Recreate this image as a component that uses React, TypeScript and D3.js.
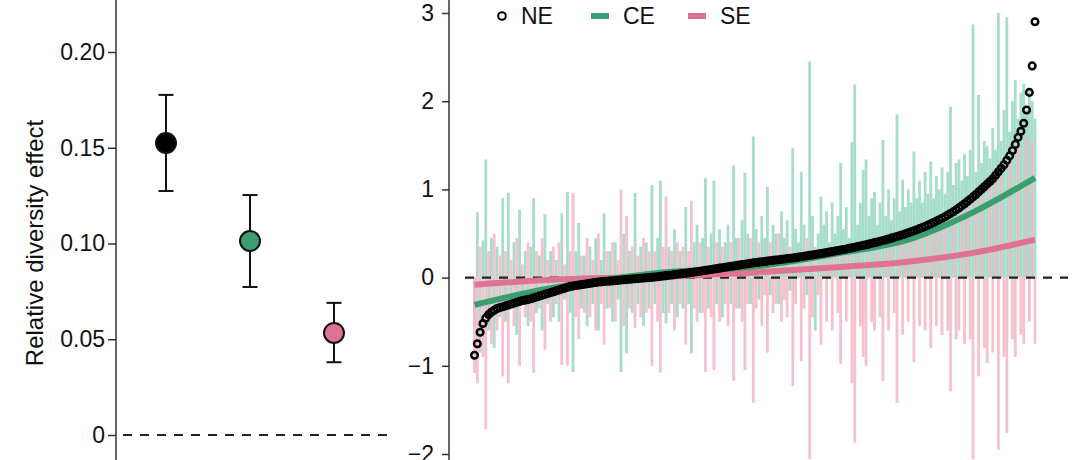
import React, { useEffect, useRef } from 'react';
import * as d3 from 'd3';

// left panel: mean relative diversity effect with CI
const effectGroups = ['NE', 'CE', 'SE'];
const effectMean = [0.1525, 0.1013, 0.0533];
const effectLower = [0.1274, 0.0773, 0.038];
const effectUpper = [0.1776, 0.1253, 0.069];
const leftTicks = [0, 0.05, 0.1, 0.15, 0.2];

// right panel: per-observation effects, sorted by NE
const rightTicks = [-2, -1, 0, 1, 2, 3];

const neValues = [
  -0.88, -0.75, -0.62, -0.52, -0.46, -0.42, -0.39, -0.37, -0.35, -0.34,
  -0.33, -0.32, -0.31, -0.30, -0.29, -0.28, -0.27, -0.26, -0.255, -0.25,
  -0.24, -0.23, -0.22, -0.21, -0.20, -0.19, -0.18, -0.17, -0.16, -0.15,
  -0.14, -0.13, -0.12, -0.11, -0.10, -0.095, -0.09, -0.085, -0.08, -0.075,
  -0.07, -0.065, -0.06, -0.055, -0.05, -0.048, -0.045, -0.042, -0.04, -0.037,
  -0.034, -0.031, -0.028, -0.025, -0.022, -0.019, -0.016, -0.013, -0.01, -0.007,
  -0.004, -0.002, 0.0, 0.003, 0.006, 0.01, 0.014, 0.018, 0.022, 0.026,
  0.03, 0.034, 0.038, 0.042, 0.046, 0.05, 0.054, 0.058, 0.062, 0.067,
  0.072, 0.077, 0.082, 0.087, 0.092, 0.097, 0.102, 0.107, 0.112, 0.117,
  0.122, 0.127, 0.132, 0.137, 0.142, 0.147, 0.152, 0.157, 0.162, 0.167,
  0.171, 0.175, 0.179, 0.183, 0.187, 0.191, 0.195, 0.199, 0.203, 0.207,
  0.211, 0.215, 0.219, 0.223, 0.227, 0.232, 0.237, 0.242, 0.247, 0.252,
  0.257, 0.262, 0.267, 0.272, 0.277, 0.283, 0.289, 0.295, 0.301, 0.307,
  0.313, 0.319, 0.325, 0.331, 0.337, 0.344, 0.351, 0.358, 0.365, 0.372,
  0.38, 0.388, 0.396, 0.404, 0.412, 0.42, 0.429, 0.438, 0.447, 0.456,
  0.466, 0.476, 0.486, 0.497, 0.508, 0.519, 0.531, 0.543, 0.555, 0.568,
  0.581, 0.595, 0.609, 0.624, 0.64, 0.656, 0.673, 0.69, 0.708, 0.727,
  0.747, 0.768, 0.79, 0.813, 0.837, 0.862, 0.888, 0.915, 0.943, 0.972,
  1.0, 1.03, 1.06, 1.09, 1.12, 1.16, 1.2, 1.24, 1.28, 1.33,
  1.38, 1.44, 1.51, 1.59, 1.66, 1.75, 1.9, 2.1, 2.4, 2.9,
];

const ceValues = [
  -0.55, 0.74, -0.85, 0.42, 1.34, -0.6, 0.45, -0.8, 0.35, -0.45,
  0.9, -0.5, 0.96, -0.35, 0.4, -0.65, 0.77, -0.3, 0.3, -0.55,
  0.35, 0.9, -0.4, 0.25, -0.6, 0.72, -0.3, 0.3, -0.45, 0.2,
  -0.5, 0.73, -0.25, 0.97, -0.4, -1.07, 0.3, 0.62, -0.35, 0.25,
  -0.55, 0.35, -0.3, 0.45, -0.6, 0.2, 0.73, -0.35, 0.3, -0.5,
  0.4, -0.25, -1.07, 0.5, -0.86, 0.3, -0.4, 0.96, -0.3, 0.35,
  -0.55, 0.4, -0.35, 1.05, -0.3, 0.45, 1.1, -0.4, -0.52, 0.35,
  -0.3, 0.55, -0.45, 0.3, -0.35, 0.8, -0.3, -0.86, 0.4, 0.6,
  -0.4, 0.45, 1.13, -0.35, 0.5, 1.1, -0.3, 0.55, -0.45, 0.4,
  0.6, -0.3, 1.27, 0.45, -0.35, 0.65, 1.19, 0.5, -0.3, 1.6,
  0.55, -0.25, 0.7, 0.45, 1.03, -0.2, 0.6, 0.5, -0.3, 0.75,
  0.45, 0.65, -0.15, 1.47, 0.55, 0.4, 1.2, 0.6, -0.2, 2.45,
  0.7, -0.6, 0.5, 0.92, 0.6, 0.75, 0.4, 0.85, 0.5, 0.7,
  1.3, 0.55, 0.8, 0.45, 1.54, 2.19, 0.6, 0.85, 1.22, 1.34,
  0.7, 0.9, 0.97, 0.6, 0.85, 1.56, 0.7, 1.0, 0.65, 0.9,
  1.85, 0.75, 1.11, 0.8, 1.0, 0.85, 1.43, 0.9, 1.1, 0.85,
  1.2, 0.95, 1.32, 0.9, 1.15, 1.0, 1.25, 0.95, 1.2, 1.94,
  1.05, 1.3, 1.34, 1.1, 1.4, 1.15, 1.45, 2.87, 1.2, 2.07,
  1.3, 1.55, 1.49, 1.35, 1.7, 1.45, 3.0, 1.55, 1.9, 2.95,
  1.65, 2.0, 2.24, 1.8, 2.1, 2.2, 1.9, 2.15, 2.0, 1.8,
];

const seValues = [
  -1.08, -1.2, 0.35, -0.9, -1.72, 0.3, -0.75, 0.5, -0.6, 0.25,
  -1.12, 0.3, -1.2, 0.2, -0.55, 0.45, -1.0, 0.15, -0.45, 0.4,
  -0.5, -1.08, 0.3, -0.35, 0.45, -0.82, 0.2, -0.5, 0.35, -0.3,
  0.4, -0.99, 0.15, -1.0, 0.3, 0.96, -0.45, -0.7, 0.25, -0.4,
  0.45, -0.45, 0.2, -0.6, 0.5, -0.3, -0.76, 0.3, -0.35, 0.4,
  -0.5, 0.2, 1.0, -0.55, 0.7, -0.35, 0.35, -0.57, 0.25, -0.45,
  0.45, -0.4, 0.3, -1.0, 0.3, -0.5, -1.08, 0.35, 0.92, -0.4,
  0.3, -0.6, 0.4, -0.3, 0.35, -0.76, 0.3, 0.87, -0.35, -0.5,
  0.4, -0.4, -1.07, 0.35, -0.45, -1.05, 0.4, -0.5, 0.35, -0.3,
  -0.55, 0.4, -1.17, -0.35, 0.45, -0.5, -1.05, -0.3, 0.45, -1.42,
  -0.35, 0.4, -0.55, -0.2, -0.85, 0.4, -0.4, -0.3, 0.5, -0.5,
  -0.25, -0.45, 0.35, -1.23, -0.3, 0.2, -0.95, -0.35, 0.45, -2.06,
  -0.45, 0.35, -0.2, -0.76, 0.3, -0.5, 0.35, -0.6, 0.3, -0.4,
  -0.98, 0.35, -0.5, 0.3, -1.2, -1.87, 0.35, -0.55, -0.9, -1.0,
  0.4, -0.5, -0.6, 0.4, -0.45, -1.17, 0.45, -0.6, 0.45, -0.4,
  -1.42, 0.5, -0.65, 0.5, -0.5, 0.55, -0.96, 0.55, -0.55, 0.6,
  -0.6, 0.6, -0.8, 0.65, -0.55, 0.65, -0.65, 0.7, -0.6, -1.29,
  0.75, -0.7, -0.6, 0.8, -0.75, 0.85, -0.7, -2.06, 0.9, -1.12,
  0.95, -0.8, -0.97, 1.05, -0.85, 1.1, -1.95, 1.15, -0.9, -1.76,
  1.3, -0.7, -0.9, 1.5, -0.65, -0.75, 1.6, -0.5, 1.55, -0.75,
];

// fitted trends (rank -> value)
const ceFitRank = [0, 19, 42, 66, 101, 130, 154, 177, 199];
const ceFitValue = [-0.31, -0.17, -0.045, 0.055, 0.13, 0.28, 0.43, 0.74, 1.13];
const seFitRank = [0, 31, 66, 101, 130, 154, 177, 199];
const seFitValue = [-0.08, -0.02, 0.01, 0.06, 0.12, 0.18, 0.28, 0.43];

const groupColor: Record<string, string> = { NE: '#000000', CE: '#3a9e6f', SE: '#e07391' };
const ceBarColor = '#98d7c2';
const seBarColor = '#f4b6c5';
const font = '"Liberation Sans", Arial, Helvetica, sans-serif';

export default function App() {
  const svgRef = useRef<SVGSVGElement>(null);

  useEffect(() => {
    const svg = d3.select(svgRef.current);
    svg.selectAll('*').remove();

    // ---------- left panel ----------
    const xL = d3.scalePoint<string>().domain(effectGroups).range([124, 376]).padding(0.5);
    const yL = d3.scaleLinear().domain([0, 0.2]).range([435, 52]);

    svg.append('line')
      .attr('x1', 123).attr('x2', 388)
      .attr('y1', yL(0)).attr('y2', yL(0))
      .attr('stroke', '#222').attr('stroke-width', 2)
      .attr('stroke-dasharray', '9,8');

    const axL = svg.append('g')
      .attr('transform', 'translate(116,0)')
      .call(d3.axisLeft(yL).tickValues(leftTicks).tickSize(8).tickPadding(3)
        .tickFormat((d: any) => (d === 0 ? '0' : d3.format('.2f')(d))));
    axL.select('.domain').remove();
    axL.attr('font-size', 23).attr('font-family', font);
    axL.selectAll('line').attr('stroke', '#333').attr('stroke-width', 1.5);
    axL.selectAll('text').attr('fill', '#111');
    svg.append('line')
      .attr('x1', 116).attr('x2', 116).attr('y1', 0).attr('y2', 460)
      .attr('stroke', '#333').attr('stroke-width', 1.5);

    svg.append('text')
      .attr('transform', 'translate(34,243) rotate(-90)')
      .attr('text-anchor', 'middle')
      .attr('dominant-baseline', 'central')
      .attr('font-size', 24).attr('font-family', font).attr('fill', '#111')
      .text('Relative diversity effect');

    const groups = svg.append('g').selectAll('g')
      .data(effectGroups)
      .enter().append('g');
    groups.append('line')
      .attr('x1', d => xL(d)!).attr('x2', d => xL(d)!)
      .attr('y1', (d, i) => yL(effectLower[i])).attr('y2', (d, i) => yL(effectUpper[i]))
      .attr('stroke', '#111').attr('stroke-width', 2);
    groups.append('line')
      .attr('x1', d => xL(d)! - 7.5).attr('x2', d => xL(d)! + 7.5)
      .attr('y1', (d, i) => yL(effectLower[i])).attr('y2', (d, i) => yL(effectLower[i]))
      .attr('stroke', '#111').attr('stroke-width', 2);
    groups.append('line')
      .attr('x1', d => xL(d)! - 7.5).attr('x2', d => xL(d)! + 7.5)
      .attr('y1', (d, i) => yL(effectUpper[i])).attr('y2', (d, i) => yL(effectUpper[i]))
      .attr('stroke', '#111').attr('stroke-width', 2);
    groups.append('circle')
      .attr('cx', d => xL(d)!)
      .attr('cy', (d, i) => yL(effectMean[i]))
      .attr('r', 10)
      .attr('fill', d => groupColor[d])
      .attr('stroke', '#111').attr('stroke-width', 2);

    // ---------- right panel ----------
    const n = neValues.length;
    const xR = d3.scaleLinear().domain([0, n - 1]).range([474.5, 1035]);
    const yR = d3.scaleLinear().domain([-2, 3]).range([454, 13]);
    const step = xR(1) - xR(0);

    const barLayer = svg.append('g');
    barLayer.selectAll('.ce')
      .data(ceValues)
      .enter().append('rect')
      .attr('class', 'ce')
      .attr('x', (d, i) => xR(i) - step / 2)
      .attr('width', step)
      .attr('y', d => Math.min(yR(d), yR(0)))
      .attr('height', d => Math.abs(yR(d) - yR(0)))
      .attr('fill', ceBarColor).attr('opacity', 0.85);
    barLayer.selectAll('.se')
      .data(seValues)
      .enter().append('rect')
      .attr('class', 'se')
      .attr('x', (d, i) => xR(i) - step / 2)
      .attr('width', step)
      .attr('y', d => Math.min(yR(d), yR(0)))
      .attr('height', d => Math.abs(yR(d) - yR(0)))
      .attr('fill', seBarColor).attr('opacity', 0.85);

    svg.append('line')
      .attr('x1', 465).attr('x2', 1068)
      .attr('y1', yR(0)).attr('y2', yR(0))
      .attr('stroke', '#222').attr('stroke-width', 2.2)
      .attr('stroke-dasharray', '9,8');

    const fitLine = d3.line<number>()
      .x(d => xR(d))
      .curve(d3.curveMonotoneX);
    svg.append('path')
      .attr('d', fitLine.y((d, i) => yR(seFitValue[i]))(seFitRank))
      .attr('fill', 'none').attr('stroke', groupColor.SE).attr('stroke-width', 6);
    svg.append('path')
      .attr('d', fitLine.y((d, i) => yR(ceFitValue[i]))(ceFitRank))
      .attr('fill', 'none').attr('stroke', groupColor.CE).attr('stroke-width', 6);

    svg.append('g').selectAll('circle')
      .data(neValues)
      .enter().append('circle')
      .attr('cx', (d, i) => xR(i))
      .attr('cy', d => yR(d))
      .attr('r', 3.3)
      .attr('fill', 'none')
      .attr('stroke', '#000').attr('stroke-width', 2.5);

    const axR = svg.append('g')
      .attr('transform', 'translate(449,0)')
      .call(d3.axisLeft(yR).tickValues(rightTicks).tickSize(7).tickPadding(8)
        .tickFormat(d3.format('d') as any));
    axR.select('.domain').remove();
    axR.attr('font-size', 23).attr('font-family', font);
    axR.selectAll('line').attr('stroke', '#333').attr('stroke-width', 1.5);
    axR.selectAll('text').attr('fill', '#111');
    svg.append('line')
      .attr('x1', 449).attr('x2', 449).attr('y1', 0).attr('y2', 460)
      .attr('stroke', '#333').attr('stroke-width', 1.5);

    // legend
    const legend = svg.append('g').attr('font-family', font).attr('font-size', 23).attr('fill', '#111');
    legend.append('circle').attr('cx', 502).attr('cy', 16).attr('r', 3.8)
      .attr('fill', 'none').attr('stroke', '#000').attr('stroke-width', 2);
    legend.append('text').attr('x', 521).attr('y', 24).text('NE');
    legend.append('rect').attr('x', 591).attr('y', 13).attr('width', 18).attr('height', 6)
      .attr('fill', groupColor.CE);
    legend.append('text').attr('x', 623).attr('y', 24).text('CE');
    legend.append('rect').attr('x', 688).attr('y', 13).attr('width', 18).attr('height', 6)
      .attr('fill', groupColor.SE);
    legend.append('text').attr('x', 720).attr('y', 24).text('SE');
  }, []);

  return (
    <svg
      ref={svgRef}
      width={1080}
      height={460}
      style={{ position: 'absolute', left: 0, top: 0, background: '#fff' }}
    />
  );
}
